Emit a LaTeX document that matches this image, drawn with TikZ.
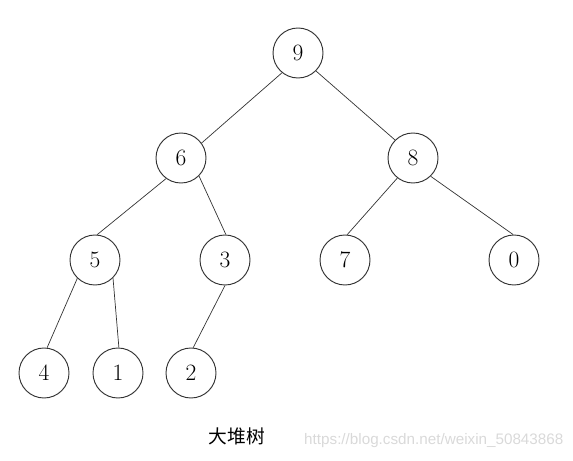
\documentclass[tikz,border=0pt]{standalone}
\usepackage{fontspec}
\usepackage{xcolor}
\usepackage{tikz}
\usetikzlibrary{positioning,calc}
\newfontfamily\cjk{Noto Sans CJK SC}
\newfontfamily\urlfont{Liberation Sans}

\tikzset{
  heapnode/.style={draw=black!80, line width=0.8pt, circle, minimum size=1.5cm, inner sep=0pt, font=\fontsize{20}{24}\selectfont},
  heapedge/.style={draw=black!80, line width=0.6pt}
}

\begin{document}
\begin{tikzpicture}[x=0.03cm, y=-0.03cm]
\useasboundingbox (0,0) rectangle (573,461);

% Root
\node[heapnode] (n9) at (298,53) {9};

% Second level
\node[heapnode] (n6) at (181,158) {6};
\node[heapnode] (n8) at (413,158) {8};

% Third level
\node[heapnode] (n5) at (95,260) {5};
\node[heapnode] (n3) at (225,260) {3};
\node[heapnode] (n7) at (345,260) {7};
\node[heapnode] (n0) at (514,260) {0};

% Leaves
\node[heapnode] (n4) at (44,373) {4};
\node[heapnode] (n1) at (118,373) {1};
\node[heapnode] (n2) at (191,373) {2};

% Edges (border to border, as hand drawn)
\draw[heapedge] (n9.231) -- (n6.36);
\draw[heapedge] (n9.315) -- (n8.135);
\draw[heapedge] (n6.234) -- (n5.85);
\draw[heapedge] (n6.315) -- (n3.88);
\draw[heapedge] (n8.232) -- (n7.85);
\draw[heapedge] (n8.314) -- (n0.92);
\draw[heapedge] (n5.226) -- (n4.83);
\draw[heapedge] (n5.315) -- (n1.88);
\draw[heapedge] (n3.270) -- (n2.85);

% Caption and watermark
\node[font=\cjk\fontsize{16}{18}\selectfont] (caption) at (237,436) {大堆树};
\node[font=\urlfont\fontsize{13}{15}\selectfont, text=black!15, anchor=west, inner sep=0pt] (mark) at (304,441) {https://blog.csdn.net/weixin\_50843868};
\end{tikzpicture}
\end{document}
